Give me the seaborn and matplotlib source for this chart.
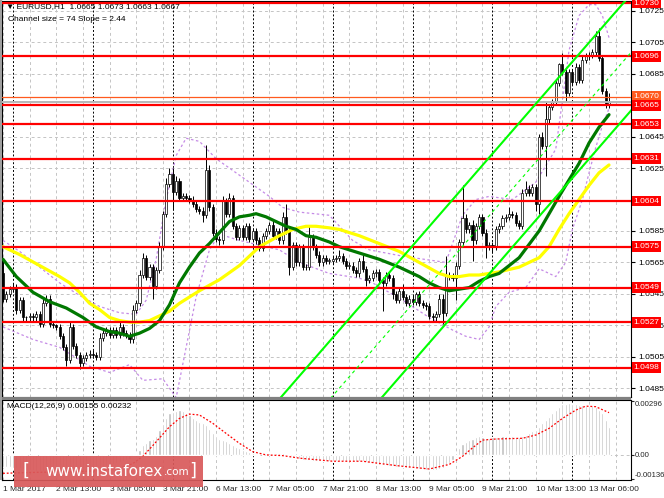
import numpy as np
import pandas as pd
import matplotlib
matplotlib.use("Agg")
import matplotlib.pyplot as plt
import seaborn as sns
from matplotlib.patches import Rectangle
from matplotlib.transforms import blended_transform_factory

# ---------------- data ----------------
first_open = 1.0558
closes = [
    1.0542, 1.0545, 1.0548, 1.0549, 1.0535, 1.0541, 1.0530, 1.0530, 1.0531, 1.0530,
    1.0532, 1.0526, 1.0539, 1.0542, 1.0526, 1.0525, 1.0524, 1.0518, 1.0511, 1.0503,
    1.0524, 1.0512, 1.0506, 1.0501, 1.0504, 1.0506, 1.0507, 1.0506, 1.0505, 1.0517,
    1.0520, 1.0522, 1.0519, 1.0522, 1.0519, 1.0524, 1.0520, 1.0519, 1.0516, 1.0535,
    1.0539, 1.0557, 1.0568, 1.0556, 1.0562, 1.0550, 1.0560, 1.0575, 1.0596, 1.0615,
    1.0621, 1.0610, 1.0617, 1.0606, 1.0607, 1.0606, 1.0605, 1.0602, 1.0599, 1.0598,
    1.0595, 1.0624, 1.0600, 1.0584, 1.0580, 1.0579, 1.0604, 1.0596, 1.0606, 1.0588,
    1.0581, 1.0587, 1.0581, 1.0588, 1.0580, 1.0585, 1.0579, 1.0574, 1.0582, 1.0585,
    1.0589, 1.0582, 1.0585, 1.0579, 1.0594, 1.0585, 1.0562, 1.0576, 1.0565, 1.0575,
    1.0562, 1.0562, 1.0581, 1.0575, 1.0570, 1.0565, 1.0568, 1.0566, 1.0566, 1.0567,
    1.0568, 1.0569, 1.0566, 1.0563, 1.0563, 1.0560, 1.0558, 1.0566, 1.0561, 1.0554,
    1.0555, 1.0558, 1.0559, 1.0554, 1.0552, 1.0557, 1.0555, 1.0545, 1.0541, 1.0547,
    1.0543, 1.0539, 1.0542, 1.0540, 1.0545, 1.0539, 1.0538, 1.0537, 1.0531, 1.0530,
    1.0532, 1.0542, 1.0533, 1.0557, 1.0556, 1.0555, 1.0563, 1.0578, 1.0593, 1.0586,
    1.0589, 1.0579, 1.0588, 1.0594, 1.0584, 1.0575, 1.0576, 1.0575, 1.0586, 1.0588,
    1.0593, 1.0594, 1.0596, 1.0595, 1.0590, 1.0588, 1.0609, 1.0612, 1.0609, 1.0613,
    1.0602, 1.0645, 1.0639, 1.0656, 1.0664, 1.0667, 1.0679, 1.0691, 1.0686, 1.0673,
    1.0686, 1.0680, 1.0689, 1.0681, 1.0694, 1.0696, 1.0697, 1.0699, 1.0709, 1.0695,
    1.0674, 1.0665, 1.0667,
]
# upper / lower wick lengths in pips
wick_up = [
    8, 2, 2, 3, 2, 2, 2, 1, 2, 2,
    2, 2, 3, 2, 2, 2, 1, 2, 2, 2,
    3, 2, 2, 2, 2, 2, 2, 2, 2, 3,
    2, 2, 2, 2, 2, 3, 2, 2, 2, 3,
    2, 3, 3, 2, 2, 2, 2, 3, 2, 4,
    4, 4, 3, 2, 2, 2, 2, 2, 2, 2,
    2, 16, 3, 2, 2, 2, 3, 2, 3, 2,
    2, 2, 2, 2, 2, 2, 2, 2, 2, 2,
    2, 3, 2, 2, 3, 8, 2, 2, 2, 2,
    2, 2, 7, 2, 2, 2, 2, 2, 2, 2,
    2, 4, 2, 2, 2, 2, 2, 2, 5, 2,
    2, 2, 2, 2, 2, 2, 2, 2, 2, 2,
    4, 2, 2, 2, 1, 2, 2, 2, 2, 2,
    2, 3, 3, 12, 2, 2, 2, 2, 21, 3,
    2, 3, 2, 2, 2, 2, 2, 2, 2, 2,
    2, 2, 4, 2, 2, 2, 3, 5, 2, 2,
    2, 2, 3, 11, 2, 2, 2, 1, 7, 2,
    2, 2, 3, 2, 2, 2, 2, 2, 3, 5,
    2, 2, 6,
]
wick_dn = [
    2, 2, 2, 2, 3, 2, 2, 2, 2, 2,
    2, 2, 2, 2, 2, 2, 2, 2, 2, 4,
    2, 2, 2, 4, 2, 2, 2, 2, 2, 2,
    2, 2, 2, 2, 2, 2, 2, 2, 2, 2,
    2, 2, 2, 2, 2, 8, 2, 2, 2, 2,
    2, 11, 2, 2, 2, 2, 2, 2, 2, 2,
    4, 2, 2, 2, 2, 3, 2, 2, 2, 2,
    2, 2, 2, 2, 2, 2, 2, 2, 2, 2,
    2, 2, 2, 2, 2, 2, 5, 2, 2, 2,
    2, 2, 2, 2, 2, 2, 2, 2, 2, 2,
    2, 2, 2, 2, 2, 2, 2, 2, 2, 4,
    2, 2, 2, 2, 18, 2, 2, 3, 2, 2,
    2, 2, 2, 2, 2, 2, 2, 2, 2, 2,
    3, 2, 7, 2, 2, 2, 14, 2, 2, 2,
    2, 13, 2, 2, 2, 7, 2, 4, 2, 2,
    2, 2, 2, 2, 2, 2, 2, 2, 2, 2,
    4, 6, 2, 19, 2, 2, 2, 2, 2, 5,
    2, 2, 2, 2, 2, 2, 2, 2, 2, 2,
    2, 2, 2,
]

green_bars = [0, 4, 9, 14, 19, 24, 28, 32, 35, 38, 41, 44, 47, 50, 53, 56, 59, 62, 65, 68,
              71, 74, 76, 79, 82, 85, 88, 91, 94, 98, 101, 107, 113, 119, 125, 128, 131, 134, 137, 140,
              143, 146, 149, 155, 161, 167, 173, 176, 179, 182]
green_ma = [1.0567, 1.0556, 1.0546, 1.0540, 1.0536, 1.0530, 1.0524, 1.0521, 1.0520, 1.0518,
            1.0520, 1.0523, 1.0528, 1.0538, 1.0552, 1.0562, 1.0571, 1.0577, 1.0584, 1.0591,
            1.0594, 1.0595, 1.0596, 1.0594, 1.0591, 1.0588, 1.0586, 1.0582, 1.0581, 1.0578,
            1.0575, 1.0571, 1.0567, 1.0562, 1.0556, 1.0552, 1.0549, 1.0547, 1.0548, 1.0549,
            1.0553, 1.0556, 1.0558, 1.0568, 1.0585, 1.0607, 1.0628, 1.0641, 1.0651, 1.0659]
yellow_bars = [0, 5, 11, 17, 20, 23, 26, 29, 32, 35, 38, 41, 44, 47, 50, 53, 59, 65, 71, 77,
               83, 87, 91, 94, 98, 101, 107, 113, 119, 125, 131, 134, 137, 140, 143, 149, 155, 161, 164, 167,
               170, 173, 176, 179, 182]
yellow_ma = [1.0575, 1.0570, 1.0563, 1.0556, 1.0552, 1.0546, 1.0539, 1.0535, 1.0530, 1.0528,
             1.0527, 1.0527, 1.0528, 1.0531, 1.0534, 1.0539, 1.0547, 1.0554, 1.0563, 1.0575,
             1.0582, 1.0586, 1.0588, 1.0588, 1.0587, 1.0586, 1.0582, 1.0577, 1.0572, 1.0565,
             1.0558, 1.0556, 1.0556, 1.0557, 1.0557, 1.0559, 1.0562, 1.0568, 1.0575, 1.0586,
             1.0596, 1.0605, 1.0614, 1.0622, 1.0627]
bb_up_bars = [0, 5, 11, 17, 23, 29, 35, 40, 43, 46, 49, 52, 55, 59, 64, 70, 76, 80, 84, 89,
              98, 105, 110, 120, 133, 138, 142, 146, 153, 160, 166, 168, 170, 173, 176, 178, 180, 182]
bb_up = [1.0579, 1.0572, 1.0562, 1.0552, 1.0544, 1.0537, 1.0533, 1.0532, 1.0541, 1.0567,
         1.0605, 1.0633, 1.0644, 1.0642, 1.0631, 1.0622, 1.0613, 1.0607, 1.0600, 1.0597,
         1.0595, 1.0579, 1.0573, 1.0569, 1.0565, 1.0595, 1.0605, 1.0607, 1.0605, 1.0616,
         1.0637, 1.0668, 1.0700, 1.0722, 1.0729, 1.0729, 1.0722, 1.0708]
bb_lo_bars = [0, 9, 17, 26, 32, 38, 42, 48, 52, 55, 58, 62, 65, 71, 77, 83, 89, 98, 107, 111,
              120, 128, 135, 139, 143, 146, 148, 152, 157, 161, 166, 169, 171, 174, 176, 178, 180, 182]
bb_lo = [1.0524, 1.0516, 1.0511, 1.0499, 1.0495, 1.0500, 1.0490, 1.0491, 1.0479, 1.0511,
         1.0543, 1.0573, 1.0583, 1.0579, 1.0576, 1.0573, 1.0565, 1.0558, 1.0555, 1.0552,
         1.0541, 1.0530, 1.0522, 1.0518, 1.0516, 1.0524, 1.0537, 1.0546, 1.0549, 1.0561,
         1.0556, 1.0565, 1.0586, 1.0605, 1.0622, 1.0638, 1.0652, 1.0663]

# regression channel: lower line at two bars, channel size 74 pips
chan_bars = [60, 190]
chan_lower = [1.0348, 1.0665]
chan_width = 0.0074

levels = [1.0730, 1.0696, 1.0665, 1.0653, 1.0631, 1.0604, 1.0575, 1.0549, 1.0527, 1.0498]
level_labels = ["1.0730", "1.0696", "1.0665", "1.0653", "1.0631", "1.0604", "1.0575", "1.0549", "1.0527", "1.0498"]
orange_level = 1.0670
bid_level = 1.0667

price_ticks = [1.0485, 1.0505, 1.0525, 1.0545, 1.0565, 1.0585, 1.0605, 1.0625, 1.0645, 1.0665, 1.0685, 1.0705, 1.0725]
hidden_ticks = [1.0605, 1.0665]   # fully covered by level boxes in the reference

# MACD histogram (x 1e-5) and signal line
macd_e5 = [
    -67, -68, -70, -72, -74, -77, -80, -83, -86, -88,
    -90, -92, -92, -91, -92, -93, -94, -96, -98, -100,
    -97, -96, -97, -98, -97, -95, -92, -88, -84, -78,
    -72, -66, -60, -54, -48, -42, -36, -30, -24, -10,
    5, 25, 55, 65, 80, 85, 105, 135, 170, 205,
    228, 237, 243, 246, 240, 230, 219, 205, 192, 182,
    172, 165, 140, 120, 100, 88, 82, 75, 65, 55,
    44, 35, 26, 20, 12, 6, 2, 0, -3, -5,
    -2, 3, 8, 10, 6, 0, -10, -15, -20, -27,
    -30, -33, -32, -35, -37, -38, -38, -38, -37, -37,
    -37, -36, -36, -37, -38, -38, -39, -37, -37, -42,
    -46, -48, -50, -56, -60, -60, -62, -65, -67, -68,
    -70, -73, -75, -77, -78, -80, -82, -84, -86, -87,
    -85, -80, -75, -58, -45, -30, -10, 35, 60, 71,
    78, 84, 95, 102, 98, 90, 92, 95, 98, 99,
    100, 100, 100, 100, 99, 98, 102, 110, 117, 128,
    135, 155, 173, 192, 210, 228, 246, 265, 280, 282,
    283, 282, 280, 277, 274, 271, 268, 267, 265, 246,
    228, 191, 155,
]
sig_bars = [0, 11, 22, 30, 36, 39, 42, 45, 50, 53, 56, 59, 63, 67, 71, 75, 79, 84, 89, 99,
            108, 118, 128, 134, 138, 141, 144, 148, 156, 160, 164, 168, 172, 175, 178, 182]
sig_e5 = [-104, -98, -95, -88, -70, -50, -10, 50, 154, 200, 224, 219, 173, 117, 62, 16, -2, -6, -20, -37,
          -37, -61, -80, -55, -10, 37, 80, 86, 90, 108, 145, 200, 246, 268, 265, 232]

label_bars = [0, 16, 32, 48, 64, 80, 96, 112, 128, 144, 160, 176]
time_labels = ["1 Mar 2017", "2 Mar 13:00", "3 Mar 05:00", "3 Mar 21:00", "6 Mar 13:00",
               "7 Mar 05:00", "7 Mar 21:00", "8 Mar 13:00", "9 Mar 05:00", "9 Mar 21:00",
               "10 Mar 13:00", "13 Mar 06:00"]
day_sep_bars = [3, 27, 51, 75, 99, 123, 147, 171]

assert len(closes) == len(wick_up) == len(wick_dn) == len(macd_e5) == 183

# ---------------- derived tables ----------------
n = len(closes)
bars = np.arange(n)
opens = [first_open] + closes[:-1]
df = pd.DataFrame({"bar": bars, "open": opens, "close": closes})
df["top"] = df[["open", "close"]].max(axis=1)
df["bot"] = df[["open", "close"]].min(axis=1)
df["high"] = df["top"] + np.array(wick_up) / 1e4
df["low"] = df["bot"] - np.array(wick_dn) / 1e4
df["bull"] = df["close"] >= df["open"]
df["macd"] = np.array(macd_e5) / 1e5

# ---------------- styling ----------------
sns.set_style("white")
plt.rcParams["font.family"] = ["Liberation Sans", "DejaVu Sans"]
FS = 6

W, H = 664, 498
fig = plt.figure(figsize=(W / 100, H / 100), dpi=100)
fig.patch.set_facecolor("white")
ax = fig.add_axes([2 / W, 1 - 397 / H, 629 / W, 396 / H])
axm = fig.add_axes([2 / W, 1 - 480 / H, 629 / W, 80 / H])

XMIN, XMAX = -0.3, 188.6
for a in (ax, axm):
    a.set_xlim(XMIN, XMAX)
    a.set_facecolor("white")
    for s in a.spines.values():
        s.set_color("black")
        s.set_linewidth(0.8)
ax.set_ylim(1.04794, 1.07313)
axm.set_ylim(-0.00141, 0.00302)

grid_kw = dict(color="#c4c4c4", lw=0.7, ls=(0, (3, 3)), zorder=0)
for b in range(0, 189, 8):
    ax.axvline(b, **grid_kw)
    axm.axvline(b, **grid_kw)
for p in price_ticks:
    ax.axhline(p, **grid_kw)
axm.axhline(0, **grid_kw)
for b in day_sep_bars:
    ax.axvline(b, color="black", lw=0.7, ls=(0, (2, 2)), zorder=0.5)
    axm.axvline(b, color="black", lw=0.7, ls=(0, (2, 2)), zorder=0.5)

# Bollinger bands
band_kw = dict(color="#c58be6", lw=0.9, linestyle=(0, (2, 2)), zorder=1)
sns.lineplot(x=bb_up_bars, y=bb_up, ax=ax, sort=False, estimator=None, **band_kw)
sns.lineplot(x=bb_lo_bars, y=bb_lo, ax=ax, sort=False, estimator=None, **band_kw)

# candles
ax.vlines(df["bar"], df["low"], df["high"], color="black", lw=0.7, zorder=3)
body_h = np.maximum(df["top"] - df["bot"], 0.00003)
ax.bar(df["bar"], body_h, bottom=df["bot"], width=0.62,
       color=np.where(df["bull"], "white", "black"), edgecolor="black", linewidth=0.5, zorder=3.5)

# moving averages
sns.lineplot(x=yellow_bars, y=yellow_ma, ax=ax, color="#ffff00", lw=2.3, sort=False, estimator=None, zorder=4)
sns.lineplot(x=green_bars, y=green_ma, ax=ax, color="#007800", lw=2.3, sort=False, estimator=None, zorder=4.1)

# horizontal levels
ax.axhline(bid_level, color="#b8b8b8", lw=1.4, zorder=4.5)
ax.axhline(orange_level, color="#ff5a1e", lw=0.9, zorder=4.6)
for lv in levels:
    ax.axhline(lv, color="#ff0000", lw=1.6, zorder=5)

# channel
ch_lo = np.array(chan_lower)
sns.lineplot(x=chan_bars, y=ch_lo, ax=ax, color="#00ff00", lw=1.5, estimator=None, zorder=6)
sns.lineplot(x=chan_bars, y=ch_lo + chan_width, ax=ax, color="#00ff00", lw=1.5, estimator=None, zorder=6)
sns.lineplot(x=chan_bars, y=ch_lo + chan_width / 2, ax=ax, color="#00ff00", lw=0.8,
             linestyle=(0, (3, 3)), estimator=None, zorder=6)

# price axis
ax.yaxis.tick_right()
ax.set_yticks(price_ticks)
ax.set_yticklabels(["" if p in hidden_ticks else f"{p:.4f}" for p in price_ticks])
ax.tick_params(axis="y", direction="out", length=3, width=0.8, pad=2, labelsize=FS, colors="black")
ax.set_xticks([])
ax.set_xlabel("")
ax.set_ylabel("")

tr = blended_transform_factory(ax.transAxes, ax.transData)
ax.text(1.004, orange_level + 0.00007, f"{orange_level:.4f}", transform=tr, ha="left", va="center",
        fontsize=FS, color="white", clip_on=False, zorder=20,
        bbox=dict(boxstyle="square,pad=0.22", fc="#ff5a1e", ec="none"))
for lv, lab in zip(levels, level_labels):
    ax.text(1.004, lv, lab, transform=tr, ha="left", va="center", fontsize=FS, color="white",
            clip_on=False, zorder=21, bbox=dict(boxstyle="square,pad=0.22", fc="#ff0000", ec="none"))

# MACD panel
axm.bar(df["bar"], df["macd"], width=0.62, color="#c0c0c0", zorder=2)
sns.lineplot(x=sig_bars, y=np.array(sig_e5) / 1e5, ax=axm, color="#ff0000", lw=0.9,
             linestyle=(0, (1.5, 1.5)), estimator=None, zorder=3)
axm.yaxis.tick_right()
axm.set_yticks([0.00296, 0.0, -0.00136])
axm.set_yticklabels(["0.00296", "0.00", "-0.00136"])
axm.tick_params(axis="y", direction="out", length=2, width=0.8, pad=0.8, labelsize=5.6)
ylabs = axm.get_yticklabels()
ylabs[0].set_va("top")
ylabs[2].set_va("bottom")
axm.set_xticks(label_bars)
axm.set_xticklabels(time_labels)
for t in axm.get_xticklabels():
    t.set_ha("left")
axm.tick_params(axis="x", direction="out", length=3, width=0.8, pad=1.5, labelsize=FS)
axm.set_xlabel("")
axm.set_ylabel("")
axm.text(0.008, 0.96, "MACD(12,26,9) 0.00155 0.00232", transform=axm.transAxes, ha="left", va="top",
         fontsize=FS, color="black", zorder=10)

# header texts
ax.text(0.006, 0.996, "\u25BC EURUSD,H1  1.0665 1.0673 1.0663 1.0667", transform=ax.transAxes,
        ha="left", va="top", fontsize=FS, color="black", zorder=10,
        family=["Liberation Sans", "DejaVu Sans"])
ax.text(0.010, 0.962, "Channel size = 74 Slope = 2.44", transform=ax.transAxes,
        ha="left", va="top", fontsize=FS, color="black", zorder=10)

# frame decorations
fig.add_artist(Rectangle((0, 1 - 400 / H), 631 / W, 3 / H, transform=fig.transFigure,
                         facecolor="#808080", edgecolor="none", zorder=5))
fig.add_artist(Rectangle((0, 1 - 480 / H), 2 / W, 480 / H, transform=fig.transFigure,
                         facecolor="#a0a0a0", edgecolor="none", zorder=5))

# watermark
fig.add_artist(Rectangle((14 / W, 1 - 487 / H), 189 / W, 31 / H, transform=fig.transFigure,
                         facecolor="#d95a5b", edgecolor="none", alpha=0.93, zorder=30))
fig.text(23 / W, 1 - 471 / H, "[", color="white", fontsize=13, ha="left", va="center",
         family="DejaVu Sans", zorder=31)
fig.text(163 / W, 1 - 471 / H, "www.instaforex", color="white", fontsize=11, ha="right", va="center",
         family="DejaVu Sans", zorder=31)
fig.text(164 / W, 1 - 472 / H, ".com", color="white", fontsize=7.5, ha="left", va="center",
         family="DejaVu Sans", zorder=31)
fig.text(189 / W, 1 - 471 / H, "]", color="white", fontsize=13, ha="left", va="center",
         family="DejaVu Sans", zorder=31)

fig.savefig("out.png", dpi=100)
